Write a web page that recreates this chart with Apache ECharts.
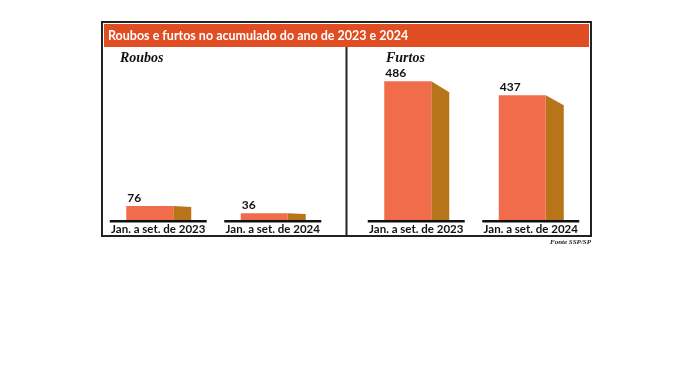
<!DOCTYPE html>
<html><head><meta charset="utf-8">
<script src="https://cdn.jsdelivr.net/npm/echarts@6/dist/echarts.min.js"></script>
<style>html,body{margin:0;padding:0;background:#fff}#c{width:696px;height:373px}</style>
</head><body><div id="c"></div>
<script>
const categories = ['Jan. a set. de 2023', 'Jan. a set. de 2024'];
const roubos = [76, 36];
const furtos = [486, 437];
const title = 'Roubos e furtos no acumulado do ano de 2023 e 2024';
const panelTitles = ['Roubos', 'Furtos'];
const source = 'Fonte SSP/SP';

const FRONT = '#F16C4A', SIDE = '#B87418';
function renderBar(params, api) {
  const i = api.value(0), v = api.value(1);
  const base = api.coord([i, 0]);
  const top = api.coord([i, v]);
  const c = base[0], yb = base[1], yt = top[1];
  const h = yb - yt;
  const fl = c - 32, fr = c + 15, sr = c + 33;
  const slope = Math.min(11, h * 0.08);
  return {type: 'group', children: [
    {type: 'polygon', shape: {points: [[fr, yt], [sr, yt + slope], [sr, yb], [fr, yb]]}, style: {fill: SIDE}},
    {type: 'rect', shape: {x: fl, y: yt, width: fr - fl, height: h}, style: {fill: FRONT}},
    {type: 'line', shape: {x1: c - 48.5, y1: yb + 1.2, x2: c + 48.5, y2: yb + 1.2}, style: {stroke: '#111', lineWidth: 2.5}},
    {type: 'text', style: {text: String(v), x: fl + 1, y: yt - 8, verticalAlign: 'middle', font: 'bold 12px Lato', fill: '#111'}}
  ]};
}
const chart = echarts.init(document.getElementById('c'));
const catAxis = (gi) => ({type: 'category', gridIndex: gi, data: categories,
  axisLine: {show: false}, axisTick: {show: false},
  axisLabel: {interval: 0, margin: 3, fontFamily: 'Lato', fontWeight: 'bold', fontSize: 11.5, color: '#111'}});
chart.setOption({
  animation: false,
  grid: [
    {left: 101, width: 229, top: 60, bottom: 153},
    {left: 359, width: 229, top: 60, bottom: 153}
  ],
  xAxis: [catAxis(0), catAxis(1)],
  yAxis: [
    {type: 'value', gridIndex: 0, min: 0, max: 868, show: false},
    {type: 'value', gridIndex: 1, min: 0, max: 560, show: false}
  ],
  series: [
    {type: 'custom', xAxisIndex: 0, yAxisIndex: 0, renderItem: renderBar,
     data: roubos.map((v, i) => [i, v])},
    {type: 'custom', xAxisIndex: 1, yAxisIndex: 1, renderItem: renderBar,
     data: furtos.map((v, i) => [i, v])}
  ],
  graphic: [
    {type: 'rect', z: -1, shape: {x: 102, y: 22, width: 489, height: 214}, style: {fill: '#fff', stroke: '#222', lineWidth: 2}},
    {type: 'rect', shape: {x: 104, y: 24, width: 485, height: 23}, style: {fill: '#E04D22'}},
    {type: 'text', x: 108, y: 35.5, style: {text: title, fill: '#fff', font: 'bold 12.5px Lato', verticalAlign: 'middle'}},
    {type: 'line', shape: {x1: 346.5, y1: 47, x2: 346.5, y2: 236}, style: {stroke: '#222', lineWidth: 2}},
    {type: 'text', x: 120, y: 58, style: {text: panelTitles[0], fill: '#111', font: 'italic bold 14px "Liberation Serif"', verticalAlign: 'middle'}},
    {type: 'text', x: 386, y: 58, style: {text: panelTitles[1], fill: '#111', font: 'italic bold 14px "Liberation Serif"', verticalAlign: 'middle'}},
    {type: 'text', x: 591, y: 242, style: {text: source, fill: '#222', font: 'italic bold 7px "Liberation Serif"', align: 'right', verticalAlign: 'middle'}}
  ]
});
</script></body></html>
